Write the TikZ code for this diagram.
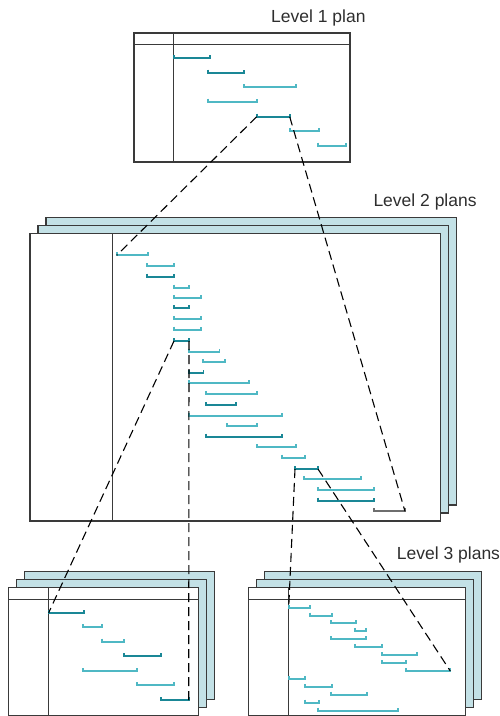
\documentclass[tikz,border=0pt]{standalone}
\usepackage{fontspec}
\setmainfont{Liberation Sans}
\usetikzlibrary{positioning}
\definecolor{ink}{HTML}{2E2E2E}
\definecolor{edgegrey}{HTML}{3A3A3A}
\definecolor{sheet}{HTML}{C3E1E6}
\definecolor{barlight}{HTML}{4FB8C4}
\definecolor{bardark}{HTML}{1A8796}
\definecolor{bargrey}{HTML}{6E6E6E}
% one task bar with its end ticks, named start (-s) and end (-e)
\newcommand{\planbar}[5]{%
  \draw[taskbar,#5] (#2,#4-3) -- (#2,#4) coordinate (#1-s) -- (#3,#4) coordinate (#1-e) -- (#3,#4-3);}
% a plan sheet with two sheets behind it
\newcommand{\planstack}[4]{%
  \draw[backsheet] (#1+16,#2-16) rectangle (#3+16,#4-16);
  \draw[backsheet] (#1+8,#2-8) rectangle (#3+8,#4-8);
  \draw[planbox] (#1,#2) rectangle (#3,#4);}

\begin{document}
\begin{tikzpicture}[x=1pt,y=-1pt,
  planbox/.style={draw=edgegrey,line width=1.3pt,fill=white},
  backsheet/.style={draw=edgegrey,line width=1.3pt,fill=sheet},
  rule/.style={edgegrey,line width=1pt},
  taskbar/.style={line width=1.7pt},
  zoomline/.style={black,line width=1.1pt,dash pattern=on 9pt off 5pt},
  title/.style={ink,font=\fontsize{17.5}{20}\selectfont,inner sep=0pt}]
  \useasboundingbox (0,0) rectangle (499,716);

  % level 1
  \draw[planbox,line width=1.5pt] (134,33) rectangle (350,162);
  \draw[rule] (134,44) -- (350,44);
  \draw[rule] (173.7,33) -- (173.7,162);
  \foreach \a/\b/\y/\c [count=\i] in {174/209.7/58.3/bardark, 208.3/244.3/72.7/bardark,
      243.7/295.7/87.3/barlight, 208.3/256.7/101.7/barlight, 256.7/289.7/116.7/bardark,
      289.7/318.7/131.3/barlight, 317.7/345.7/145.7/barlight}
    \planbar{lone\i}{\a}{\b}{\y}{\c};

  % level 2
  \planstack{30}{233.3}{440.7}{521}
  \draw[rule] (112.7,233.3) -- (112.7,521);
  \foreach \a/\b/\y/\c [count=\i] in {116.7/147.7/255.3/barlight, 147.3/174.3/266/barlight,
      147.3/174.3/276.7/bardark, 174/189/287.7/barlight, 174/200.7/298/barlight,
      174/189/308.3/bardark, 174/200.7/319/barlight, 174/200.7/329.7/barlight,
      174/189/341/bardark, 189/219.5/351.7/barlight, 203/225/362/barlight,
      189/203.5/372.7/bardark, 189/248.7/383.3/barlight, 205.7/256.7/394/barlight,
      205.7/235.7/405/bardark, 189/282.3/415.7/barlight, 227.3/256.7/426/barlight,
      205.7/282.3/436.7/bardark, 256.7/295.7/447.3/barlight, 281.7/304.7/457.7/barlight,
      295/318/469/bardark, 304.3/360.7/479.3/barlight, 317.7/374.3/490/barlight,
      317.7/374.3/500.7/bardark, 374/405/511.3/bargrey}
    \planbar{ltwo\i}{\a}{\b}{\y}{\c};

  % level 3, left
  \planstack{8.3}{587.7}{198.3}{715.5}
  \draw[rule] (8.3,599) -- (198.3,599);
  \draw[rule] (48.7,587.7) -- (48.7,716);
  \foreach \a/\b/\y/\c [count=\i] in {48.7/84.3/612.7/bardark, 83.3/102.3/627.3/barlight,
      101.7/124.3/641.7/barlight, 123.7/161/656.3/bardark, 83.3/136.7/671/barlight,
      136.7/174.3/685.3/barlight, 160.7/188.7/700/bardark}
    \planbar{lthreea\i}{\a}{\b}{\y}{\c};

  % level 3, right
  \planstack{248.3}{587.7}{465.3}{715.5}
  \draw[rule] (248.3,599) -- (465.3,599);
  \draw[rule] (288.7,587.7) -- (288.7,716);
  \foreach \a/\b/\y [count=\i] in {288.7/310/607.7, 310/331.7/615.7, 331/355.7/623.3,
      355/366.3/631, 331/366.3/639, 355/382.3/647, 381.7/417.3/655, 381.7/406/663,
      405.7/450.3/671, 288.7/305/679.3, 304.7/331.7/687, 331/366.7/694.7,
      304.7/318.7/702.7, 317.7/398.3/710.7}
    \planbar{lthreeb\i}{\a}{\b}{\y}{barlight};

  % zoom lines
  \draw[zoomline] (lone5-s) -- (ltwo1-s);
  \draw[zoomline] (lone5-e) -- (ltwo25-e);
  \draw[zoomline] (ltwo9-s) -- (lthreea1-s);
  \draw[zoomline] (ltwo9-e) -- (lthreea7-e);
  \draw[zoomline] (ltwo21-s) -- (lthreeb1-s);
  \draw[zoomline] (ltwo21-e) -- (lthreeb9-e);

  \node[title,anchor=base west] (lvlone) at (271,22) {Level 1 plan};
  \node[title,anchor=base west] (lvltwo) at (373.3,206.5) {Level 2 plans};
  \node[title,anchor=base west] (lvlthree) at (396.7,559.3) {Level 3 plans};
\end{tikzpicture}
\end{document}
